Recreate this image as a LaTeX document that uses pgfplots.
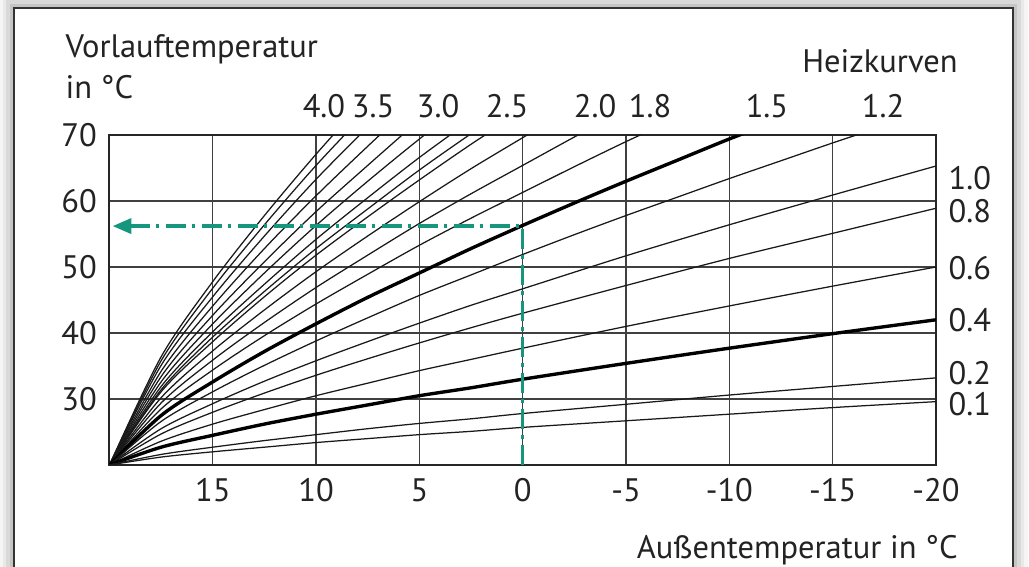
\documentclass[border=0pt]{standalone}
\usepackage{fontspec}
\setmainfont{PT Sans}
\usepackage{pgfplots}
\pgfplotsset{compat=1.18}
\usetikzlibrary{arrows.meta}
\definecolor{vgreen}{RGB}{22,150,125}
\definecolor{txt}{RGB}{35,35,35}
\newcommand{\lf}{\fontsize{13}{15}\selectfont}
\tikzset{lab/.style={font=\lf, text=txt, inner sep=0pt}}
\pgfplotsset{cv/.style={black!90, line width=0.5pt, smooth}, ck/.style={black, line width=1.35pt, smooth}}
\begin{document}
\begin{tikzpicture}[x=1pt,y=1pt]
\useasboundingbox (-43.8,-40.8) rectangle (367.8,186);
% shadow and frame
\foreach \s/\o in {6/0.04,4.5/0.05,3/0.07,1.5/0.09}{
  \fill[black,opacity=\o] (-38.2-\s,-50) rectangle (361.4+\s,182.8+\s);
}
\fill[white] (-38.2,-48) rectangle (361.4,182.8);
\draw[black!80,line width=0.9pt] (-38.2,-48) -- (-38.2,182.8) -- (361.4,182.8) -- (361.4,-48);
\begin{axis}[at={(0,0)}, anchor=south west, scale only axis,
  width=330.6pt, height=132pt,
  xmin=-20, xmax=20, x dir=reverse, ymin=20, ymax=70,
  xtick={15,10,5,0,-5,-10,-15,-20},
  xticklabels={15,10,5,0,-5,-10,-15,-20},
  ytick={30,40,50,60,70},
  yticklabels={30,40,50,60,70},
  grid=major, major grid style={black!75, line width=0.5pt},
  major tick length=0pt,
  axis line style={black!85, line width=0.8pt},
  tick label style={font=\lf, text=txt},
  xticklabel style={yshift=-2pt},
  yticklabel style={xshift=-1.5pt},
  clip mode=individual,
]
% 4.0 ... 2.5 region
\addplot[cv] coordinates {(20,20) (17.5,36.4) (15,47.8) (12.5,57.8) (10,67.1) (7.5,75.8)};
\addplot[cv] coordinates {(20,20) (17.5,35.8) (15,46.8) (12.5,56.4) (10,65.4) (7.5,73.7)};
\addplot[cv] coordinates {(20,20) (17.5,35.1) (15,45.5) (12.5,54.7) (10,63.3) (7.5,71.2) (5,78.9)};
\addplot[cv] coordinates {(20,20) (17.5,34.2) (15,44.1) (12.5,52.8) (10,60.8) (7.5,68.3) (5,75.6)};
\addplot[cv] coordinates {(20,20) (17.5,33.4) (15,42.7) (12.5,50.8) (10,58.4) (7.5,65.4) (5,72.3)};
\addplot[cv] coordinates {(20,20) (17.5,32.6) (15,41.4) (12.5,49.1) (10,56.3) (7.5,63.0) (5,69.4) (2.5,75.5)};
\addplot[cv] coordinates {(20,20) (17.5,31.9) (15,40.2) (12.5,47.4) (10,54.2) (7.5,60.5) (5,66.6) (2.5,72.3)};
\addplot[cv] coordinates {(20,20) (17.5,31.4) (15,39.4) (12.5,46.3) (10,52.8) (7.5,58.8) (5,64.7) (2.5,70.2) (0,75.5)};
\addplot[cv] coordinates {(20,20) (17.5,31.1) (15,38.7) (12.5,45.5) (10,51.8) (7.5,57.6) (5,63.2) (2.5,68.6) (0,73.7)};
\addplot[cv] coordinates {(20,20) (17.5,30.2) (15,37.3) (12.5,43.5) (10,49.3) (7.5,54.7) (5,59.9) (2.5,64.9) (0,69.6) (-2.5,74.3)};
% 2.0
\addplot[cv] coordinates {(20,20) (17.5,29.4) (15,35.9) (12.5,41.6) (10,46.9) (7.5,51.8) (5,56.6) (2.5,61.1) (0,65.4) (-2.5,69.7) (-5,73.9)};
% 1.8
\addplot[cv] coordinates {(20,20) (17.5,28.5) (15,34.4) (12.5,39.6) (10,44.4) (7.5,48.9) (5,53.3) (2.5,57.4) (0,61.3) (-2.5,65.2) (-5,69.0) (-7.5,72.6)};
% 1.5 thick
\addplot[ck] coordinates {(20,20) (17.5,27.5) (15,32.6) (12.5,37.2) (10,41.4) (7.5,45.4) (5,49.1) (2.5,52.8) (0,56.3) (-2.5,59.7) (-5,63.0) (-7.5,66.2) (-10,69.4) (-12.5,72.4)};
% 1.2
\addplot[cv] coordinates {(20,20) (17.5,26.6) (15,31.1) (12.5,35.1) (10,38.8) (7.5,42.3) (5,45.7) (2.5,48.8) (0,51.9) (-2.5,54.9) (-5,57.8) (-7.5,60.6) (-10,63.4) (-12.5,66.1) (-15,68.8) (-17.5,71.4)};
% 1.0
\addplot[cv] coordinates {(20,20) (17.5,25.5) (15,29.3) (12.5,32.7) (10,35.8) (7.5,38.7) (5,41.5) (2.5,44.2) (0,46.7) (-5,51.7) (-10,56.4) (-15,60.9) (-20,65.3)};
% 0.8
\addplot[cv] coordinates {(20,20) (17.5,24.7) (15,28.0) (12.5,30.9) (10,33.6) (7.5,36.1) (5,38.5) (2.5,40.8) (0,43.0) (-5,47.2) (-10,51.3) (-15,55.1) (-20,58.9)};
% 0.6
\addplot[cv] coordinates {(20,20) (17.5,23.6) (15,26.2) (12.5,28.4) (10,30.5) (7.5,32.4) (5,34.3) (2.5,36.0) (0,37.7) (-5,41.0) (-10,44.1) (-15,47.1) (-20,50.0)};
% 0.4 thick
\addplot[ck] coordinates {(20,20) (17.5,22.7) (15,24.5) (12.5,26.2) (10,27.7) (7.5,29.1) (5,30.5) (2.5,31.7) (0,33.0) (-5,35.4) (-10,37.7) (-15,39.9) (-20,42.0)};
% 0.2
\addplot[cv] coordinates {(20,20) (17.5,21.6) (15,22.7) (12.5,23.7) (10,24.6) (7.5,25.5) (5,26.3) (2.5,27.0) (0,27.8) (-5,29.2) (-10,30.6) (-15,31.9) (-20,33.2)};
% 0.1
\addplot[cv] coordinates {(20,20) (17.5,21.2) (15,22.0) (12.5,22.7) (10,23.4) (7.5,24.0) (5,24.6) (2.5,25.1) (0,25.7) (-5,26.7) (-10,27.7) (-15,28.7) (-20,29.6)};
% green reading line
\addplot[vgreen, line width=1.4pt, dash pattern=on 8pt off 2.5pt on 1.4pt off 2.5pt, -{Triangle[length=7.5pt,width=6pt]}] coordinates {(0,20) (0,56.2) (19.85,56.2)};
% labels
\node[lab, anchor=base west] at (axis cs:22.15,81.8) {Vorlauftemperatur};
\node[lab, anchor=base west] at (axis cs:22.15,75.6) {in °C};
\node[lab, anchor=base east] at (axis cs:-21.07,79.4) {Heizkurven};
\node[lab, anchor=base east] at (axis cs:-21.07,5.9) {Außentemperatur in °C};
\node[lab, anchor=base] at (axis cs:9.62,72.6) {4.0};
\node[lab, anchor=base] at (axis cs:7.24,72.6) {3.5};
\node[lab, anchor=base] at (axis cs:4.10,72.6) {3.0};
\node[lab, anchor=base] at (axis cs:0.76,72.6) {2.5};
\node[lab, anchor=base] at (axis cs:-3.50,72.6) {2.0};
\node[lab, anchor=base] at (axis cs:-6.16,72.6) {1.8};
\node[lab, anchor=base] at (axis cs:-11.82,72.6) {1.5};
\node[lab, anchor=base] at (axis cs:-17.44,72.6) {1.2};
\node[lab, anchor=west] at (axis cs:-20.59,63.4) {1.0};
\node[lab, anchor=west] at (axis cs:-20.59,58.5) {0.8};
\node[lab, anchor=west] at (axis cs:-20.59,49.8) {0.6};
\node[lab, anchor=west] at (axis cs:-20.59,42.0) {0.4};
\node[lab, anchor=west] at (axis cs:-20.59,33.9) {0.2};
\node[lab, anchor=west] at (axis cs:-20.59,29.2) {0.1};
\end{axis}
\end{tikzpicture}
\end{document}
